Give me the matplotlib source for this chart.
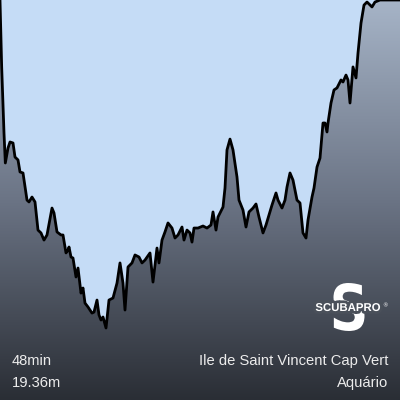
import numpy as np
import matplotlib
matplotlib.use("Agg")
import matplotlib.pyplot as plt
from matplotlib.colors import LinearSegmentedColormap
from matplotlib.patches import Polygon, PathPatch
from matplotlib.textpath import TextPath
from matplotlib.font_manager import FontProperties
from matplotlib.transforms import Affine2D
import matplotlib.patheffects as pe

# -----------------------------
# Dive profile data
# -----------------------------
time_min = [0, 0.2, 0.48, 0.64, 0.96, 1.2, 1.56, 1.8, 2.16, 2.4,
            2.76, 3.24, 3.48, 3.84, 4.2, 4.56, 4.92, 5.28, 5.64, 6.24,
            6.48, 6.84, 7.32, 7.56, 7.92, 8.16, 8.28, 8.52, 8.76, 9.12,
            9.36, 9.72, 9.96, 10.2, 10.56, 11.04, 11.28, 11.64, 11.88, 12.12,
            12.36, 12.72, 13.08, 13.56, 14.04, 14.4, 14.76, 15.0, 15.36, 15.84,
            16.2, 16.68, 17.04, 17.4, 18.0, 18.36, 18.84, 19.08, 19.44, 19.8,
            20.16, 20.64, 21.0, 21.36, 21.84, 22.08, 22.44, 22.8, 23.04, 23.28,
            23.76, 24.36, 24.84, 25.32, 25.56, 25.92, 26.16, 26.76, 27.0, 27.24,
            27.6, 27.96, 28.44, 28.68, 29.16, 29.52, 29.88, 30.36, 30.72, 31.08,
            31.56, 31.92, 32.28, 32.64, 33.12, 33.36, 33.84, 34.2, 34.44, 34.8,
            35.16, 35.64, 36.0, 36.36, 36.72, 36.96, 37.44, 37.68, 38.04, 38.4,
            38.76, 39.0, 39.24, 39.36, 39.72, 40.08, 40.44, 40.92, 41.16, 41.52,
            41.76, 42.0, 42.36, 42.72, 42.96, 43.32, 43.68, 44.04, 44.64, 45.0,
            45.6, 48.0]

depth_m = [0, 3.95, 7.85, 9.62, 8.74, 8.38, 8.44, 9.27, 9.44, 10.15,
           10.21, 11.81, 11.92, 11.63, 11.92, 13.58, 13.75, 14.17, 13.87, 12.28,
           12.57, 13.69, 13.87, 13.87, 14.93, 14.76, 14.58, 15.17, 15.23, 16.35,
           15.82, 17.30, 17.00, 17.89, 18.12, 18.48, 18.42, 17.71, 18.59, 18.89,
           18.71, 19.36, 17.71, 17.59, 16.71, 15.52, 16.71, 18.30, 15.76, 15.52,
           15.05, 15.17, 15.52, 15.35, 14.93, 16.65, 14.64, 15.52, 14.17, 13.69,
           13.16, 13.46, 14.05, 13.87, 13.40, 14.17, 13.58, 13.75, 14.29, 13.46,
           13.46, 13.34, 13.46, 13.28, 12.51, 13.58, 12.81, 12.22, 11.10, 8.85,
           8.21, 8.85, 10.45, 11.81, 12.40, 13.40, 12.51, 12.28, 12.04, 12.81,
           13.75, 13.28, 12.69, 12.10, 11.39, 11.81, 12.28, 11.81, 11.04, 10.21,
           10.63, 11.81, 11.98, 13.75, 14.05, 12.99, 11.63, 11.10, 9.86, 9.33,
           7.26, 7.26, 7.79, 7.26, 6.08, 5.31, 5.19, 4.72, 4.84, 4.43,
           4.72, 6.08, 3.95, 4.60, 3.13, 1.36, 0.30, 0.12, 0.41, 0.12,
           0, 0]

duration_label = "48min"
max_depth_label = "19.36m"
site_label = "Ile de Saint Vincent Cap Vert"
spot_label = "Aquário"

# -----------------------------
# Figure
# -----------------------------
fig = plt.figure(figsize=(4, 4), dpi=100, facecolor="#c5dcf6")
ax = fig.add_axes([0, 0, 1, 1])

t_end = max(time_min)
y_bottom = 23.61  # depth at the bottom edge of the picture
ax.set_xlim(0, t_end)
ax.set_ylim(y_bottom, 0)
ax.axis("off")

# Gradient fill below the profile
cmap = LinearSegmentedColormap.from_list("depth", ["#a6b4c7", "#6b7485", "#2a2e35"])
grad = np.linspace(0, 1, 256).reshape(-1, 1)
im = ax.imshow(grad, extent=[0, t_end, y_bottom, 0], aspect="auto", cmap=cmap,
               origin="upper", zorder=1)
verts = list(zip(time_min, depth_m)) + [(t_end, y_bottom), (0, y_bottom)]
clip = Polygon(verts, closed=True, facecolor="none", edgecolor="none")
ax.add_patch(clip)
im.set_clip_path(clip)

ax.plot(time_min, depth_m, color="black", lw=2.0, solid_joinstyle="round", zorder=3)

# Labels
txt = dict(color="#ececec", fontsize=10.6, family="Liberation Sans", va="center")
fig.text(12 / 400, 1 - 361 / 400, duration_label, ha="left", **txt)
fig.text(12 / 400, 1 - 383 / 400, max_depth_label, ha="left", **txt)
fig.text(388 / 400, 1 - 361 / 400, site_label, ha="right", **txt)
fig.text(388 / 400, 1 - 383 / 400, spot_label, ha="right", **txt)

# Logo: large S with brand name across it
tp = TextPath((0, 0), "S", size=1, prop=FontProperties(family="DejaVu Sans", weight="bold"))
bb = tp.get_extents()
sx, sy = 31 / 400 / bb.width, 48 / 400 / bb.height
cx, cy = 349 / 400, 1 - 307 / 400
tr = Affine2D().translate(-(bb.x0 + bb.width / 2), -(bb.y0 + bb.height / 2)).scale(sx, sy).translate(cx, cy)
fig.patches.append(PathPatch(tr.transform_path(tp), facecolor="white", edgecolor="none",
                             transform=fig.transFigure, zorder=5))
fig.text(348 / 400, 1 - 308 / 400, "SCUBAPRO", ha="center", va="center", color="white",
         fontsize=8.2, fontweight="bold", family="Liberation Sans", zorder=6,
         path_effects=[pe.withStroke(linewidth=4, foreground="#4a505a")])
fig.text(385 / 400, 1 - 306 / 400, "®", ha="center", va="center", color="white",
         fontsize=4, family="DejaVu Sans", zorder=6)

fig.savefig("out.png", dpi=100, facecolor=fig.get_facecolor())
